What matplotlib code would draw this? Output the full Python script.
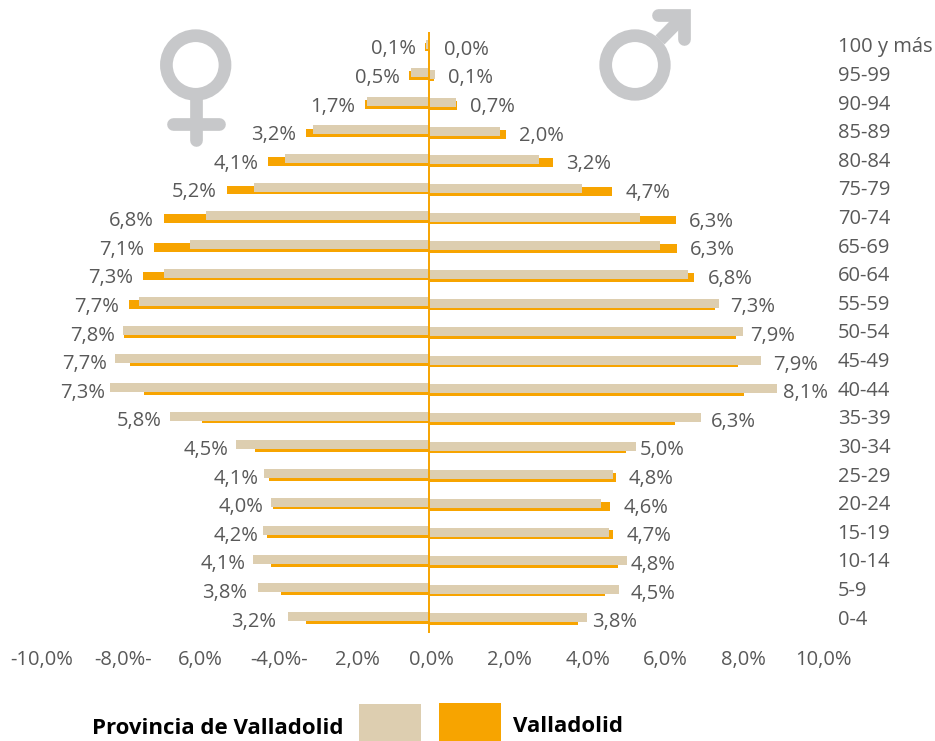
import matplotlib
matplotlib.use('Agg')
import matplotlib.pyplot as plt
from matplotlib.patches import Circle, Rectangle
from matplotlib.transforms import ScaledTranslation

plt.rcParams['font.family'] = ['Open Sans', 'DejaVu Sans']

# top row first
grupos = ['100 y más', '95-99', '90-94', '85-89', '80-84', '75-79', '70-74',
          '65-69', '60-64', '55-59', '50-54', '45-49', '40-44', '35-39',
          '30-34', '25-29', '20-24', '15-19', '10-14', '5-9', '0-4']

muj_prov = [0.07, 0.47, 1.59, 2.96, 3.67, 4.46, 5.69, 6.10, 6.76, 7.40, 7.81,
            8.01, 8.14, 6.61, 4.92, 4.21, 4.03, 4.23, 4.49, 4.36, 3.60]
muj_vall = [0.10, 0.50, 1.63, 3.13, 4.10, 5.15, 6.76, 7.02, 7.30, 7.65, 7.78,
            7.63, 7.28, 5.79, 4.44, 4.08, 3.99, 4.13, 4.03, 3.78, 3.15]
hom_prov = [0.02, 0.15, 0.69, 1.81, 2.81, 3.90, 5.38, 5.89, 6.60, 7.40, 8.01,
            8.47, 8.88, 6.94, 5.28, 4.69, 4.40, 4.58, 5.05, 4.85, 4.02]
hom_vall = [0.02, 0.13, 0.71, 1.96, 3.16, 4.68, 6.29, 6.33, 6.76, 7.30, 7.83,
            7.87, 8.04, 6.28, 5.03, 4.77, 4.63, 4.69, 4.82, 4.50, 3.80]

muj_labels = ['0,1%', '0,5%', '1,7%', '3,2%', '4,1%', '5,2%', '6,8%', '7,1%',
              '7,3%', '7,7%', '7,8%', '7,7%', '7,3%', '5,8%', '4,5%', '4,1%',
              '4,0%', '4,2%', '4,1%', '3,8%', '3,2%']
hom_labels = ['0,0%', '0,1%', '0,7%', '2,0%', '3,2%', '4,7%', '6,3%', '6,3%',
              '6,8%', '7,3%', '7,9%', '7,9%', '8,1%', '6,3%', '5,0%', '4,8%',
              '4,6%', '4,7%', '4,8%', '4,5%', '3,8%']

x_ticks = [-10, -8, -6, -4, -2, 0, 2, 4, 6, 8, 10]
x_labels = ['-10,0%', '-8,0%-', '6,0%', '-4,0%-', '2,0%', '0,0%', '2,0%',
            '4,0%', '6,0%', '8,0%', '10,0%']

# label gaps and nudges, pixels
muj_gap = [9, 10, 10, 10, 10, 10, 10, 10, 10, 10, 8, 8, 5, 8, 8, 5, 8, 5, 7, 11, 12]
hom_gap = [14, 13, 13, 13.5, 13, 13, 13.5, 13, 14, 11, 7, 12, 6, 10, 4, 13, 13, 14, 4, 11.5, 5.5]
x_nudge = [5, 7.6, 7, 6.7, 6.4, 2.6, 2.2, 2.2, 0.8, 1, 2.4]

BEIGE = '#DDCEB0'
NARANJA = '#F7A400'
GRIS = '#595959'
ICONO = '#C7C8CA'
FS = 14.5

W, H = 935, 741
ROW = 601 / 21


def px(v):
    return v / ROW


fig = plt.figure(figsize=(W / 100, H / 100), dpi=100)
ax = fig.add_axes([37 / W, 1 - 633 / H, 784 / W, 601 / H])
y = [20 - i for i in range(21)]

# orange sits a little lower than the beige, men a bit lower than women
ax.barh([v - px(0.7) for v in y], [-v for v in muj_vall], height=px(8.7), color=NARANJA, zorder=2)
ax.barh([v - px(2.0) for v in y], hom_vall, height=px(8.7), color=NARANJA, zorder=2)
ax.barh([v + px(2.2) for v in y], [-v for v in muj_prov], height=px(9), color=BEIGE, zorder=3)
ax.barh([v + px(0.8) for v in y], hom_prov, height=px(9), color=BEIGE, zorder=3)
ax.axvline(0, color=NARANJA, lw=1.4, zorder=4)

ax.set_xlim(-10, 10)
ax.set_ylim(-0.5, 20.5)
for s in ax.spines.values():
    s.set_visible(False)

for i in range(21):
    end = max(muj_vall[i], muj_prov[i])
    ax.annotate(muj_labels[i], (-end, y[i]), xytext=(-muj_gap[i], -3),
                textcoords='offset pixels', ha='right', va='center',
                fontsize=FS, color=GRIS, zorder=5)
    end = max(hom_vall[i], hom_prov[i])
    ax.annotate(hom_labels[i], (end, y[i]), xytext=(hom_gap[i], -3.5),
                textcoords='offset pixels', ha='left', va='center',
                fontsize=FS, color=GRIS, zorder=5)

ax.set_xticks(x_ticks)
ax.set_xticklabels(x_labels, fontsize=FS, color=GRIS)
ax.tick_params(axis='x', length=0, pad=12.5)
for lab, dx in zip(ax.get_xticklabels(), x_nudge):
    lab.set_transform(lab.get_transform() + ScaledTranslation(dx / 100, 0, fig.dpi_scale_trans))

ax.yaxis.tick_right()
ax.set_yticks(y)
ax.set_yticklabels(grupos, fontsize=FS, color=GRIS)
ax.tick_params(axis='y', length=0, pad=12)
for lab in ax.get_yticklabels():
    lab.set_transform(lab.get_transform() + ScaledTranslation(0, 1.5 / 100, fig.dpi_scale_trans))

# overlay in pixel coordinates for the icons and the legend
ov = fig.add_axes([0, 0, 1, 1], facecolor='none')
ov.set_xlim(0, W)
ov.set_ylim(H, 0)
ov.axis('off')

lw = 12.7 * 72 / 100
for cx in (195.7, 635):
    ov.add_patch(Circle((cx, 65), 29.3, fill=False, ec=ICONO, lw=lw))
ov.plot([196, 196], [98, 139.5], color=ICONO, lw=lw, solid_capstyle='round')
ov.plot([173, 218.7], [124.3, 124.3], color=ICONO, lw=lw, solid_capstyle='round')
ov.plot([660, 684.4], [40, 15.3], color=ICONO, lw=lw, solid_capstyle='butt')
ov.plot([658, 684.4, 684.4], [15.3, 15.3, 39], color=ICONO, lw=lw,
        solid_capstyle='round', solid_joinstyle='miter')

ov.add_patch(Rectangle((359, 704), 62, 37, fc=BEIGE, ec='none'))
ov.add_patch(Rectangle((439, 703), 62, 38, fc=NARANJA, ec='none'))
ov.text(92, 729, 'Provincia de Valladolid', fontsize=16, fontweight='bold',
        color='black', ha='left', va='center')
ov.text(513, 727, 'Valladolid', fontsize=16, fontweight='bold',
        color='black', ha='left', va='center')

fig.savefig('out.png', dpi=100)
